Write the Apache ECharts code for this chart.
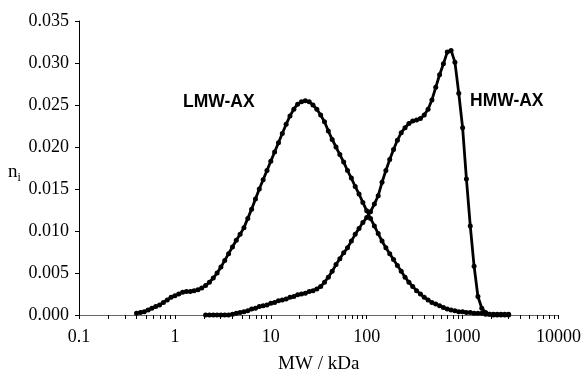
<!DOCTYPE html>
<html>
<head>
<meta charset="utf-8">
<script src="https://cdn.jsdelivr.net/npm/echarts@6/dist/echarts.min.js"></script>
<style>
html,body{margin:0;padding:0;background:#fff;}
#c{width:584px;height:379px;}
</style>
</head>
<body>
<div id="c"></div>
<script>
// Molecular weight grid (kDa)
const mw = [
  0.398,0.437,0.479,0.525,0.575,0.631,0.692,0.759,0.832,0.912,
  1.000,1.096,1.202,1.318,1.445,1.585,1.738,1.905,2.089,2.291,2.512,2.754,3.020,3.311,3.631,3.981,4.365,4.786,5.248,5.754,6.310,6.918,7.586,8.318,9.120,
  10.00,10.96,12.02,13.18,14.45,15.85,17.38,19.05,20.89,22.91,25.12,27.54,30.20,33.11,36.31,39.81,43.65,47.86,52.48,57.54,63.10,69.18,75.86,83.18,91.20,
  100.0,109.6,120.2,131.8,144.5,158.5,173.8,190.5,208.9,229.1,251.2,275.4,302.0,331.1,363.1,398.1,436.5,478.6,524.8,575.4,631.0,691.8,758.6,831.8,912.0,
  1000,1096,1202,1318,1445,1585,1738,1905,2089,2291,2512,2754,3020
];
// LMW-AX number fraction
const lmw = [
  0.0002,0.0003,0.0004,0.0006,0.0008,0.0010,0.0012,0.0015,0.0018,0.0021,
  0.0023,0.0025,0.0027,0.0028,0.0028,0.0029,0.0030,0.0032,0.0035,0.0039,0.0044,0.0050,0.0057,0.0065,0.0073,0.0081,0.0089,0.0096,0.0104,0.0115,0.0126,0.0138,0.0150,0.0161,0.0172,
  0.0183,0.0194,0.0205,0.0216,0.0227,0.0237,0.0245,0.0251,0.0254,0.0255,0.0254,0.0250,0.0245,0.0238,0.0230,0.0219,0.0209,0.0200,0.0191,0.0182,0.0172,0.0163,0.0153,0.0144,0.0134,
  0.0124,0.0115,0.0106,0.0097,0.0088,0.0080,0.0073,0.0066,0.0059,0.0052,0.0045,0.0039,0.0034,0.0029,0.0025,0.0021,0.0018,0.0015,0.0013,0.0011,0.0009,0.0007,0.0006,0.0005,0.0004,
  0.0004,0.0003,0.0003,0.0002,0.0002,0.0002,0.0001,0.0001,0.0001,0.0001,0.0001,0.0001,0.0001
];
// HMW-AX number fraction (null = no data)
const hmw = [
  null,null,null,null,null,null,null,null,null,null,
  null,null,null,null,null,null,null,null,0.0000,0.0000,0.0000,0.0000,0.0000,0.0000,0.0000,0.0001,0.0002,0.0003,0.0004,0.0005,0.0007,0.0008,0.0010,0.0011,0.0012,
  0.0014,0.0015,0.0017,0.0018,0.0019,0.0021,0.0022,0.0024,0.0025,0.0026,0.0028,0.0029,0.0031,0.0034,0.0039,0.0045,0.0052,0.0060,0.0067,0.0074,0.0080,0.0088,0.0096,0.0103,0.0110,
  0.0116,0.0123,0.0132,0.0142,0.0158,0.0172,0.0185,0.0197,0.0208,0.0217,0.0223,0.0228,0.0231,0.0232,0.0234,0.0238,0.0245,0.0256,0.0271,0.0286,0.0299,0.0313,0.0315,0.0301,0.0264,
  0.0223,0.0162,0.0106,0.0058,0.0022,0.0008,0.0003,0.0001,0.0000,0.0000,0.0000,0.0000,0.0000
];
const xMin = 0.1, xMax = 10000;
const yMin = 0, yMax = 0.035, yStep = 0.005;
const labels = [{text:'LMW-AX', at:[183,102]}, {text:'HMW-AX', at:[470,101]}];

function pairs(arr){ const out=[]; mw.forEach((x,i)=>{ if(arr[i]!==null) out.push([x,arr[i]]); }); return out; }
const tickVals=[]; for(let d=xMin; d<xMax*0.999; d*=10){ for(let k=1;k<10;k++) tickVals.push(+(d*k).toPrecision(3)); } tickVals.push(xMax);

const serif = 'Liberation Serif, Times New Roman, serif';
const chart = echarts.init(document.getElementById('c'), null, {renderer:'canvas'});
const lineSeries = (name, arr) => ({
  name, type:'line', data:pairs(arr), symbol:'circle', symbolSize:5,
  showSymbol:true, itemStyle:{color:'#000'}, lineStyle:{color:'#000', width:2.8},
  animation:false, z:3
});
chart.setOption({
  backgroundColor:'#fff',
  animation:false,
  grid:{left:79, right:25, top:21, bottom:61, containLabel:false},
  xAxis:{
    type:'log', logBase:10, min:xMin, max:xMax,
    name:'MW / kDa', nameLocation:'middle', nameGap:40,
    nameTextStyle:{fontFamily:serif, fontSize:19, color:'#000'},
    axisLine:{show:true, onZero:false, lineStyle:{color:'#666', width:1}},
    axisTick:{show:true, inside:false, length:4, lineStyle:{color:'#000'}, customValues:tickVals},
    axisLabel:{fontFamily:serif, fontSize:18, color:'#000', margin:13,
      formatter:v=>String(v)},
    splitLine:{show:false}, minorTick:{show:false}
  },
  yAxis:{
    type:'value', min:yMin, max:yMax, interval:yStep,
    axisLine:{show:true, lineStyle:{color:'#000', width:1}},
    axisTick:{show:true, inside:false, length:4, lineStyle:{color:'#000'}},
    axisLabel:{fontFamily:serif, fontSize:18, color:'#000', margin:10, formatter:v=>v.toFixed(3)},
    splitLine:{show:false}
  },
  graphic:[
    {type:'text', left:8, top:163, style:{text:'{n|n}{i|i}', fontFamily:serif, fill:'#000',
      rich:{n:{fontFamily:serif, fontSize:19, fill:'#000'}, i:{fontFamily:serif, fontSize:12, fill:'#000', verticalAlign:'bottom', padding:[10,0,0,0]}}}},
    ...labels.map(l=>({type:'text', x:l.at[0], y:l.at[1], style:{text:l.text, fontFamily:'Liberation Sans, Arial, sans-serif', fontWeight:'bold', fontSize:17.5, fill:'#000', verticalAlign:'middle', align:'left'}}))
  ],
  series:[lineSeries('LMW-AX', lmw), lineSeries('HMW-AX', hmw)]
});
</script>
</body>
</html>
